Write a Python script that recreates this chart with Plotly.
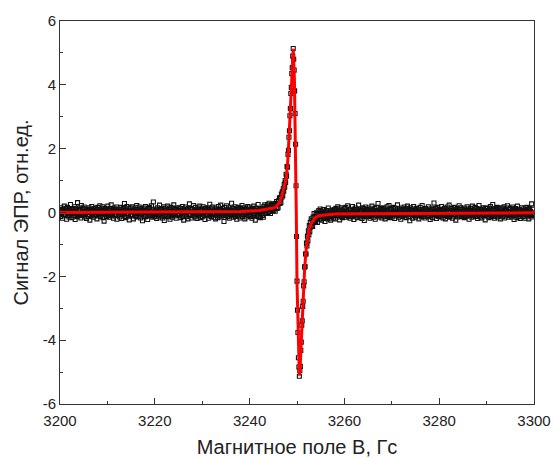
import plotly.graph_objects as go

# Field sweep of the measured points (Gs): start and step of the recorded sweep
FIELD_START = 3200.0
FIELD_STEP = 0.1

# Measured EPR signal, in hundredths of rel. units, 25 sweep points per row
SIGNAL_ROWS = [
    [6, -12, 15, -3, 9, -18, 2, 11, -7, 20, -10, 4, -5, 13, -21, 7, 16, -9, 0, -14, 10, -2, 25, -8, 3],
    [-16, 9, -1, 12, -11, 1, 18, -22, 8, -4, 10, -13, 31, -6, 5, -10, 14, -3, 7, -17, 22, -9, 2, 13, -5],
    [-8, 17, -14, 4, -2, 11, -19, 6, 9, -12, 3, 15, -7, -24, 10, 1, -9, 19, -4, 8, -15, 5, 12, -11, 0],
    [14, -6, 3, -20, 9, 16, -3, -10, 7, 21, -13, 2, -8, 11, -1, 18, -16, 5, -27, 8, 13, -5, 4, -12, 10],
    [-3, 20, -9, 6, -15, 1, 12, -7, 24, -11, 5, -4, 9, -18, 14, 2, -10, 7, -6, 17, -21, 3, 11, -8, -1],
    [9, -14, 4, 16, -5, -19, 10, 1, -8, 13, -2, 28, -12, 6, -16, 8, 19, -4, 3, -10, 12, -23, 5, 15, -7],
    [2, -11, 18, -6, 7, -20, 11, -1, 4, -9, 15, -14, 22, -3, 8, -12, 1, 17, -8, 5, -17, 10, -4, 13, -26],
    [7, 3, -10, 14, -5, 19, -13, 6, -1, 10, -22, 4, 12, -7, 16, -11, 2, -4, 21, -9, 8, -15, 33, -6, 1],
    [-12, 11, -3, 8, -19, 5, 15, -8, 2, -14, 23, -5, 9, -10, 4, 12, -17, 7, -2, 18, -25, 6, -9, 14, 0],
    [10, -7, 20, -13, 3, -4, 11, -21, 8, 16, -9, 1, -15, 13, -6, 24, -11, 5, -3, 9, -18, 14, 2, -8, 7],
    [-5, 15, -10, 4, 12, -16, 6, -1, 19, -12, 8, -24, 3, 11, -7, 17, -2, -13, 9, 5, -20, 13, -6, 27, -9],
    [4, -8, 12, -17, 1, 9, -3, 22, -11, 6, -14, 16, -5, 2, -19, 10, 7, -9, 14, -2, 20, -16, 8, -4, 11],
    [-13, 5, 18, -7, -1, 10, -22, 13, 3, -10, 7, -5, 15, -18, 9, -3, 26, -8, 4, -12, 11, -6, 17, -1, -15],
    [8, -2, 14, -20, 6, 11, -9, 2, -16, 19, -4, 9, -11, 5, 23, -14, 1, -7, 13, -10, 4, -28, 16, -3, 7],
    [-9, 21, -5, 3, -13, 8, 15, -18, 10, -2, 6, -10, 29, -7, 1, 12, -15, 4, -6, 18, -12, 9, -1, -21, 14],
    [3, -11, 7, 16, -4, -17, 12, 0, -8, 22, -13, 5, 10, -6, 15, -20, 8, -2, 11, -14, 2, 19, -9, 6, -5],
    [17, -7, -12, 9, 1, -18, 13, 4, -10, 20, -3, 7, -24, 11, -5, 14, -9, 2, 25, -13, 6, -1, 10, -16, 8],
    [-4, 12, -9, 5, -15, 19, 1, 24, 6, 14, -3, 18, 8, 24, 0, 13, 29, 3, 17, -3, 22, 8, 25, 7, 21],
    [5, 27, 11, 25, 4, 28, 15, 34, 13, 27, 15, 37, 28, 46, 28, 45, 31, 58, 48, 65, 53, 74, 67, 88, 79],
    [100, 94, 120, 114, 144, 142, 182, 195, 236, 256, 303, 326, 373, 392, 435, 454, 490, 514, 480, 446, 381, 310, 214, 84, -75],
    [-215, -306, -376, -455, -484, -513, -495, -482, -432, -406, -353, -339, -294, -278, -230, -217, -171, -169, -130, -130, -96, -105, -74, -89, -57],
    [-70, -41, -60, -31, -45, -20, -43, -25, -44, -14, -27, -3, -28, -13, -29, -5, -20, 1, -31, -3, -12, 6, -21, -4, 11],
    [-17, 4, -24, -5, 1, -14, 9, -19, -6, -28, 1, -11, 6, -15, -2, -20, 14, -12, -6, -17, 5, -24, 0, -9, 8],
    [-11, 6, -17, 2, 9, -8, -20, 13, -4, 1, -14, 18, -9, -2, 11, -23, 5, -6, 15, -12, 3, -16, 8, -1, -10],
    [12, -7, -3, 16, -15, 4, -9, 21, -5, -12, 7, -1, -18, 10, -6, 2, -13, 19, -8, 5, -22, 9, -4, 14, -11],
    [-2, 8, -16, 3, -7, 23, -10, 1, -14, 11, -5, 6, -19, 15, -3, -9, 12, -25, 4, -6, 17, -13, 0, 9, -8],
    [5, -12, 14, -4, -18, 7, 1, -10, 20, -6, 10, -15, 3, -2, 13, -21, 6, -8, 16, -11, 2, 28, -7, -14, 8],
    [-9, 4, -3, 12, -17, 9, -6, 15, -1, -13, 6, -20, 11, 2, -8, 18, -12, 3, -5, 22, -16, 7, -10, 13, -4],
    [10, -14, 1, -7, 16, -3, -19, 8, 13, -11, 4, -6, 24, -9, 0, -15, 11, -2, 7, -21, 14, -5, 9, -12, 3],
    [-6, 17, -10, 5, -2, -16, 12, -8, 20, -4, 2, -13, 9, -26, 15, -7, 6, -1, 11, -18, 4, 19, -9, -3, 8],
    [-15, 6, 13, -5, -11, 3, 10, -20, 7, -2, 16, -9, 1, -14, 22, -6, 9, -12, 5, -1, -17, 12, -4, 8, -10],
    [2, -8, 18, -13, 6, -3, -22, 11, 4, -7, 14, -16, 9, -1, 30, -11, 3, -5, 12, -19, 7, -9, 16, -2, -12],
    [9, -4, -14, 10, -1, 19, -10, 5, -17, 8, -6, 13, -3, -20, 11, 1, -9, 17, -12, 4, -7, 23, -15, 6, 0],
    [-7, 13, -2, -18, 8, 3, -11, 16, -5, 10, -24, 6, -1, 12, -14, 4, -8, 21, -10, 2, 15, -6, -13, 9, -3],
    [11, -9, 5, -16, 14, -4, 7, -12, 1, 18, -7, -2, 10, -21, 6, -10, 13, -5, 3, -15, 20, -8, 4, -11, 8],
    [-4, 16, -12, 2, -8, 12, -19, 7, -3, 22, -10, 5, -14, 9, 0, -17, 11, -6, 15, -1, -9, 6, -23, 13, -5],
    [7, -2, 14, -11, 3, -16, 10, -6, 19, -13, 1, 8, -9, 25, -4, -12, 6, -18, 12, -3, 9, -7, 16, -14, 2],
    [-10, 12, -5, 4, -20, 8, 15, -8, 1, -13, 11, -3, 18, -17, 6, -1, -11, 14, -6, 21, -9, 3, -15, 10, -4],
    [13, -6, 1, -14, 9, 17, -10, 5, -22, 7, -2, 12, -8, 3, -16, 20, -5, 10, -12, 1, 8, -19, 6, -3, 15],
    [-8, 4, -13, 11, -1, 6, -18, 14, -7, 2, 16, -11, 9, -4, -20, 7, 12, -9, 3, -14, 27, -6, 10, -2, -9],
    [-4],
]

# Fitted curve (red line)
FIT_FIELD = [3200, 3230, 3238, 3242, 3244, 3245, 3245.7, 3246.4, 3246.8, 3247.2,
             3247.5, 3247.8, 3248.0, 3248.3, 3248.6, 3248.9, 3249.2, 3249.45, 3249.7,
             3249.85, 3250.0, 3250.25, 3250.5, 3250.65, 3250.8, 3251.0, 3251.3, 3251.6,
             3251.9, 3252.2, 3252.6, 3253.0, 3253.4, 3253.8, 3254.5, 3255.5, 3258,
             3262, 3270, 3285, 3300]
FIT_SIGNAL = [0.0, 0.01, 0.03, 0.06, 0.10, 0.14, 0.19, 0.35, 0.52, 0.72,
              0.92, 1.2, 1.5, 2.3, 3.3, 4.3, 5.13, 4.2, 2.2,
              0.0, -2.2, -4.2, -5.11, -4.9, -4.4, -3.6, -2.7, -1.8,
              -1.2, -0.85, -0.5, -0.35, -0.26, -0.17, -0.10, -0.08, -0.05,
              -0.04, -0.03, -0.02, -0.01]

X_TICKS = [3200, 3220, 3240, 3260, 3280, 3300]
Y_TICKS = [-6, -4, -2, 0, 2, 4, 6]
X_TITLE = "Магнитное поле B, Гс"
Y_TITLE = "Сигнал ЭПР, отн.ед."

assert all(len(r) == 25 for r in SIGNAL_ROWS[:-1])
signal_centi = [v for row in SIGNAL_ROWS for v in row]
field = [FIELD_START + FIELD_STEP * i for i in range(len(signal_centi))]
signal = [v / 100.0 for v in signal_centi]

fig = go.Figure()
fig.add_trace(go.Scatter(
    x=field, y=signal, mode="markers",
    marker=dict(symbol="square-open", size=4, color="#111111", line=dict(width=1.1, color="#111111")),
    showlegend=False,
))
fig.add_trace(go.Scatter(
    x=FIT_FIELD, y=FIT_SIGNAL, mode="lines",
    line=dict(color="#ff0000", width=3),
    showlegend=False,
))

font_family = "Liberation Sans, Arial, sans-serif"
axis_common = dict(
    showgrid=False, zeroline=False, showline=True, linecolor="#333333", linewidth=1,
    mirror=True, ticks="inside", ticklen=6, tickwidth=1, tickcolor="#333333",
    tickfont=dict(family=font_family, size=15, color="#222222"),
)

fig.update_layout(
    width=554, height=458,
    margin=dict(l=60, r=20, t=21, b=54),
    paper_bgcolor="white", plot_bgcolor="white",
    xaxis=dict(
        range=[3200, 3300], tickvals=X_TICKS, ticktext=[str(t) for t in X_TICKS],
        minor=dict(ticks="inside", ticklen=3, dtick=10, tick0=3200, tickcolor="#333333", showgrid=False),
        title=dict(text=X_TITLE, font=dict(family=font_family, size=20, color="#222222"), standoff=14),
        ticklabelstandoff=3,
        automargin=False,
        **axis_common,
    ),
    yaxis=dict(
        range=[-6, 6], tickvals=Y_TICKS, ticktext=[str(t) for t in Y_TICKS],
        minor=dict(ticks="inside", ticklen=3, dtick=1, tick0=0, tickcolor="#333333", showgrid=False),
        title=dict(text=Y_TITLE, font=dict(family=font_family, size=20, color="#222222"), standoff=8),
        automargin=False,
        **axis_common,
    ),
)

fig.write_html("out.html")
